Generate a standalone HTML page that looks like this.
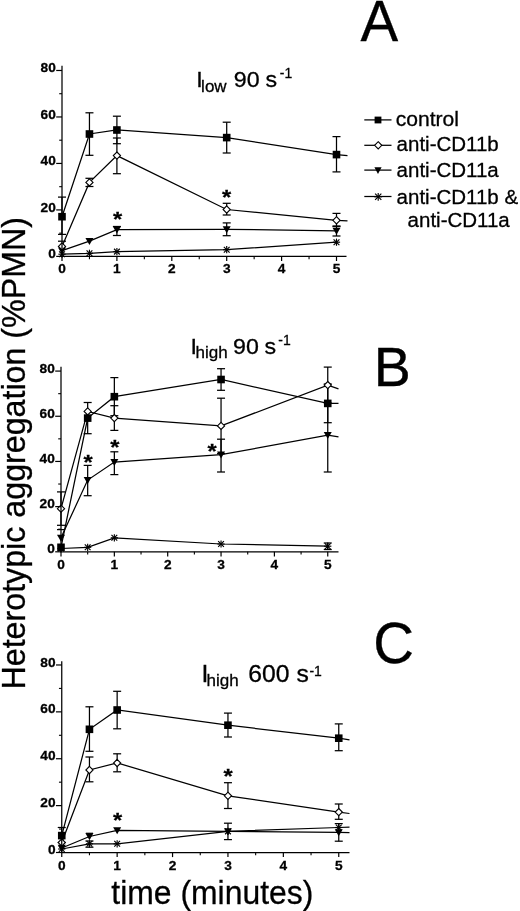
<!DOCTYPE html>
<html><head><meta charset="utf-8"><title>Heterotypic aggregation</title>
<style>
html,body{margin:0;padding:0;background:#fff;}
body{width:520px;height:911px;overflow:hidden;}
svg{display:block;}
text{font-family:"Liberation Sans",Arial,Helvetica,sans-serif;fill:#000;stroke:#000;stroke-width:0.3px;}
</style></head><body>
<svg width="520" height="911" viewBox="0 0 520 911">
<rect width="520" height="911" fill="#fff"/>
<text transform="translate(360.50,40.70) scale(1.0,1)" font-size="56.5" font-weight="normal" font-style="normal" text-anchor="start" >A</text>
<text transform="translate(373.80,386.30) scale(1.0,1)" font-size="55.5" font-weight="normal" font-style="normal" text-anchor="start" >B</text>
<text transform="translate(373.30,662.90) scale(1.0,1)" font-size="56.5" font-weight="normal" font-style="normal" text-anchor="start" >C</text>
<text transform="translate(25.2,689.5) rotate(-90)" font-size="32.3" textLength="472.5" lengthAdjust="spacingAndGlyphs">Heterotypic aggregation (%PMN)</text>
<text x="111.3" y="903.5" font-size="34" textLength="202" lengthAdjust="spacingAndGlyphs">time (minutes)</text>
<text transform="translate(196.30,86.90) scale(1.04,1)" font-size="22.3" font-weight="normal" font-style="normal" text-anchor="start" >I</text>
<text transform="translate(201.10,91.50) scale(1.0,1)" font-size="17" font-weight="normal" font-style="normal" text-anchor="start" >low</text>
<text transform="translate(233.80,86.90) scale(1.04,1)" font-size="22.3" font-weight="normal" font-style="normal" text-anchor="start" >90</text>
<text transform="translate(265.60,86.90) scale(1.04,1)" font-size="22.3" font-weight="normal" font-style="normal" text-anchor="start" >s</text>
<text transform="translate(279.80,77.90) scale(0.92,1)" font-size="15.2" font-weight="normal" font-style="normal" text-anchor="start" >-1</text>
<text transform="translate(190.60,353.50) scale(1.04,1)" font-size="22.3" font-weight="normal" font-style="normal" text-anchor="start" >I</text>
<text transform="translate(195.60,358.10) scale(1.0,1)" font-size="17" font-weight="normal" font-style="normal" text-anchor="start" >high</text>
<text transform="translate(233.00,353.50) scale(1.04,1)" font-size="22.3" font-weight="normal" font-style="normal" text-anchor="start" >90</text>
<text transform="translate(264.40,353.50) scale(1.04,1)" font-size="22.3" font-weight="normal" font-style="normal" text-anchor="start" >s</text>
<text transform="translate(278.30,345.00) scale(0.92,1)" font-size="15.2" font-weight="normal" font-style="normal" text-anchor="start" >-1</text>
<text transform="translate(201.50,681.50) scale(1.06,1)" font-size="23.3" font-weight="normal" font-style="normal" text-anchor="start" >I</text>
<text transform="translate(206.60,686.10) scale(1.0,1)" font-size="17" font-weight="normal" font-style="normal" text-anchor="start" >high</text>
<text transform="translate(248.30,681.50) scale(1.06,1)" font-size="23.3" font-weight="normal" font-style="normal" text-anchor="start" >600</text>
<text transform="translate(296.40,681.50) scale(1.06,1)" font-size="23.3" font-weight="normal" font-style="normal" text-anchor="start" >s</text>
<text transform="translate(309.40,675.80) scale(0.92,1)" font-size="15.2" font-weight="normal" font-style="normal" text-anchor="start" >-1</text>
<line x1="364.30" y1="119.90" x2="391.50" y2="119.90" stroke="#000" stroke-width="1.25"/>
<rect x="374.60" y="116.60" width="6.8" height="6.8" fill="#000"/>
<line x1="364.30" y1="145.30" x2="391.50" y2="145.30" stroke="#000" stroke-width="1.25"/>
<polygon points="378.20,141.70 381.80,145.30 378.20,148.90 374.60,145.30" fill="#fff" stroke="#000" stroke-width="1.1"/>
<line x1="364.30" y1="170.10" x2="391.50" y2="170.10" stroke="#000" stroke-width="1.25"/>
<polygon points="374.40,167.33 381.60,167.33 378.00,173.93" fill="#000"/>
<line x1="364.30" y1="196.50" x2="391.50" y2="196.50" stroke="#000" stroke-width="1.25"/>
<line x1="378.20" y1="192.90" x2="378.20" y2="200.70" stroke="#000" stroke-width="1.15"/>
<line x1="374.30" y1="196.80" x2="382.10" y2="196.80" stroke="#000" stroke-width="1.15"/>
<line x1="375.08" y1="193.68" x2="381.32" y2="199.92" stroke="#000" stroke-width="1.15"/>
<line x1="375.08" y1="199.92" x2="381.32" y2="193.68" stroke="#000" stroke-width="1.15"/>
<text transform="translate(395.70,126.30) scale(1.03,1)" font-size="20.5" font-weight="normal" font-style="normal" text-anchor="start" >control</text>
<text transform="translate(396.60,151.20) scale(1.0,1)" font-size="20.5" font-weight="normal" font-style="normal" text-anchor="start" >anti-CD11b</text>
<text transform="translate(396.60,177.30) scale(1.0,1)" font-size="20.5" font-weight="normal" font-style="normal" text-anchor="start" >anti-CD11a</text>
<text transform="translate(396.60,203.50) scale(1.0,1)" font-size="20.5" font-weight="normal" font-style="normal" text-anchor="start" >anti-CD11b &amp;</text>
<text transform="translate(407.60,227.30) scale(1.0,1)" font-size="20.5" font-weight="normal" font-style="normal" text-anchor="start" >anti-CD11a</text>
<polyline points="62.00,216.70 89.45,134.00 116.90,130.00 226.70,137.60 336.50,154.60 347.50,155.60" fill="none" stroke="#000" stroke-width="1.25"/>
<polyline points="62.00,246.40 89.45,182.40 116.90,155.60 226.70,209.50 336.50,220.30 347.50,220.90" fill="none" stroke="#000" stroke-width="1.25"/>
<polyline points="62.00,250.70 89.45,241.20 116.90,229.60 226.70,229.30 336.50,230.80" fill="none" stroke="#000" stroke-width="1.25"/>
<polyline points="62.00,254.20 89.45,253.30 116.90,251.60 226.70,249.70 336.50,242.20" fill="none" stroke="#000" stroke-width="1.25"/>
<line x1="62.00" y1="197.10" x2="62.00" y2="234.40" stroke="#000" stroke-width="1.25"/>
<line x1="58.00" y1="197.10" x2="66.00" y2="197.10" stroke="#000" stroke-width="1.25"/>
<line x1="58.00" y1="234.40" x2="66.00" y2="234.40" stroke="#000" stroke-width="1.25"/>
<line x1="89.45" y1="112.80" x2="89.45" y2="155.30" stroke="#000" stroke-width="1.25"/>
<line x1="85.45" y1="112.80" x2="93.45" y2="112.80" stroke="#000" stroke-width="1.25"/>
<line x1="85.45" y1="155.30" x2="93.45" y2="155.30" stroke="#000" stroke-width="1.25"/>
<line x1="116.90" y1="116.20" x2="116.90" y2="143.70" stroke="#000" stroke-width="1.25"/>
<line x1="112.90" y1="116.20" x2="120.90" y2="116.20" stroke="#000" stroke-width="1.25"/>
<line x1="112.90" y1="143.70" x2="120.90" y2="143.70" stroke="#000" stroke-width="1.25"/>
<line x1="226.70" y1="122.20" x2="226.70" y2="153.00" stroke="#000" stroke-width="1.25"/>
<line x1="222.70" y1="122.20" x2="230.70" y2="122.20" stroke="#000" stroke-width="1.25"/>
<line x1="222.70" y1="153.00" x2="230.70" y2="153.00" stroke="#000" stroke-width="1.25"/>
<line x1="336.50" y1="136.60" x2="336.50" y2="171.90" stroke="#000" stroke-width="1.25"/>
<line x1="332.50" y1="136.60" x2="340.50" y2="136.60" stroke="#000" stroke-width="1.25"/>
<line x1="332.50" y1="171.90" x2="340.50" y2="171.90" stroke="#000" stroke-width="1.25"/>
<line x1="58.00" y1="241.20" x2="66.00" y2="241.20" stroke="#000" stroke-width="1.25"/>
<line x1="89.45" y1="178.30" x2="89.45" y2="186.50" stroke="#000" stroke-width="1.25"/>
<line x1="85.45" y1="178.30" x2="93.45" y2="178.30" stroke="#000" stroke-width="1.25"/>
<line x1="85.45" y1="186.50" x2="93.45" y2="186.50" stroke="#000" stroke-width="1.25"/>
<line x1="116.90" y1="138.00" x2="116.90" y2="173.70" stroke="#000" stroke-width="1.25"/>
<line x1="112.90" y1="138.00" x2="120.90" y2="138.00" stroke="#000" stroke-width="1.25"/>
<line x1="112.90" y1="173.70" x2="120.90" y2="173.70" stroke="#000" stroke-width="1.25"/>
<line x1="226.70" y1="203.30" x2="226.70" y2="215.00" stroke="#000" stroke-width="1.25"/>
<line x1="222.70" y1="203.30" x2="230.70" y2="203.30" stroke="#000" stroke-width="1.25"/>
<line x1="222.70" y1="215.00" x2="230.70" y2="215.00" stroke="#000" stroke-width="1.25"/>
<line x1="336.50" y1="213.40" x2="336.50" y2="226.50" stroke="#000" stroke-width="1.25"/>
<line x1="332.50" y1="213.40" x2="340.50" y2="213.40" stroke="#000" stroke-width="1.25"/>
<line x1="332.50" y1="226.50" x2="340.50" y2="226.50" stroke="#000" stroke-width="1.25"/>
<line x1="116.90" y1="226.50" x2="116.90" y2="235.50" stroke="#000" stroke-width="1.25"/>
<line x1="112.90" y1="226.50" x2="120.90" y2="226.50" stroke="#000" stroke-width="1.25"/>
<line x1="112.90" y1="235.50" x2="120.90" y2="235.50" stroke="#000" stroke-width="1.25"/>
<line x1="226.70" y1="222.90" x2="226.70" y2="235.70" stroke="#000" stroke-width="1.25"/>
<line x1="222.70" y1="222.90" x2="230.70" y2="222.90" stroke="#000" stroke-width="1.25"/>
<line x1="222.70" y1="235.70" x2="230.70" y2="235.70" stroke="#000" stroke-width="1.25"/>
<line x1="336.50" y1="226.00" x2="336.50" y2="236.00" stroke="#000" stroke-width="1.25"/>
<line x1="332.50" y1="226.00" x2="340.50" y2="226.00" stroke="#000" stroke-width="1.25"/>
<line x1="332.50" y1="236.00" x2="340.50" y2="236.00" stroke="#000" stroke-width="1.25"/>
<line x1="62.00" y1="250.60" x2="62.00" y2="257.80" stroke="#000" stroke-width="1.15"/>
<line x1="58.40" y1="254.20" x2="65.60" y2="254.20" stroke="#000" stroke-width="1.15"/>
<line x1="59.12" y1="251.32" x2="64.88" y2="257.08" stroke="#000" stroke-width="1.15"/>
<line x1="59.12" y1="257.08" x2="64.88" y2="251.32" stroke="#000" stroke-width="1.15"/>
<line x1="89.45" y1="249.70" x2="89.45" y2="256.90" stroke="#000" stroke-width="1.15"/>
<line x1="85.85" y1="253.30" x2="93.05" y2="253.30" stroke="#000" stroke-width="1.15"/>
<line x1="86.57" y1="250.42" x2="92.33" y2="256.18" stroke="#000" stroke-width="1.15"/>
<line x1="86.57" y1="256.18" x2="92.33" y2="250.42" stroke="#000" stroke-width="1.15"/>
<line x1="116.90" y1="248.00" x2="116.90" y2="255.20" stroke="#000" stroke-width="1.15"/>
<line x1="113.30" y1="251.60" x2="120.50" y2="251.60" stroke="#000" stroke-width="1.15"/>
<line x1="114.02" y1="248.72" x2="119.78" y2="254.48" stroke="#000" stroke-width="1.15"/>
<line x1="114.02" y1="254.48" x2="119.78" y2="248.72" stroke="#000" stroke-width="1.15"/>
<line x1="226.70" y1="246.10" x2="226.70" y2="253.30" stroke="#000" stroke-width="1.15"/>
<line x1="223.10" y1="249.70" x2="230.30" y2="249.70" stroke="#000" stroke-width="1.15"/>
<line x1="223.82" y1="246.82" x2="229.58" y2="252.58" stroke="#000" stroke-width="1.15"/>
<line x1="223.82" y1="252.58" x2="229.58" y2="246.82" stroke="#000" stroke-width="1.15"/>
<line x1="336.50" y1="238.60" x2="336.50" y2="245.80" stroke="#000" stroke-width="1.15"/>
<line x1="332.90" y1="242.20" x2="340.10" y2="242.20" stroke="#000" stroke-width="1.15"/>
<line x1="333.62" y1="239.32" x2="339.38" y2="245.08" stroke="#000" stroke-width="1.15"/>
<line x1="333.62" y1="245.08" x2="339.38" y2="239.32" stroke="#000" stroke-width="1.15"/>
<polygon points="58.00,247.55 66.00,247.55 62.00,254.55" fill="#000"/>
<polygon points="85.45,238.05 93.45,238.05 89.45,245.05" fill="#000"/>
<polygon points="112.90,226.45 120.90,226.45 116.90,233.45" fill="#000"/>
<polygon points="222.70,226.15 230.70,226.15 226.70,233.15" fill="#000"/>
<polygon points="332.50,227.65 340.50,227.65 336.50,234.65" fill="#000"/>
<polygon points="62.00,242.80 65.60,246.40 62.00,250.00 58.40,246.40" fill="#fff" stroke="#000" stroke-width="1.1"/>
<polygon points="89.45,178.80 93.05,182.40 89.45,186.00 85.85,182.40" fill="#fff" stroke="#000" stroke-width="1.1"/>
<polygon points="116.90,152.00 120.50,155.60 116.90,159.20 113.30,155.60" fill="#fff" stroke="#000" stroke-width="1.1"/>
<polygon points="226.70,205.90 230.30,209.50 226.70,213.10 223.10,209.50" fill="#fff" stroke="#000" stroke-width="1.1"/>
<polygon points="336.50,216.70 340.10,220.30 336.50,223.90 332.90,220.30" fill="#fff" stroke="#000" stroke-width="1.1"/>
<rect x="58.20" y="212.90" width="7.6" height="7.6" fill="#000"/>
<rect x="85.65" y="130.20" width="7.6" height="7.6" fill="#000"/>
<rect x="113.10" y="126.20" width="7.6" height="7.6" fill="#000"/>
<rect x="222.90" y="133.80" width="7.6" height="7.6" fill="#000"/>
<rect x="332.70" y="150.80" width="7.6" height="7.6" fill="#000"/>
<text transform="translate(117.50,216.00) scale(1.05,0.88)" y="11.70" font-size="22.5" font-weight="bold" text-anchor="middle">*</text>
<text transform="translate(226.60,193.80) scale(1.05,0.88)" y="11.70" font-size="22.5" font-weight="bold" text-anchor="middle">*</text>
<line x1="62.00" y1="65.80" x2="62.00" y2="256.90" stroke="#000" stroke-width="1.25"/>
<line x1="61.50" y1="256.40" x2="346.50" y2="256.40" stroke="#000" stroke-width="1.25"/>
<line x1="56.20" y1="256.40" x2="62.00" y2="256.40" stroke="#000" stroke-width="1.2"/>
<text transform="translate(55.80,258.00) scale(1.0,1)" font-size="13.7" font-weight="bold" font-style="normal" text-anchor="end" >0</text>
<line x1="59.20" y1="233.16" x2="62.00" y2="233.16" stroke="#000" stroke-width="1.1"/>
<line x1="56.20" y1="209.92" x2="62.00" y2="209.92" stroke="#000" stroke-width="1.2"/>
<text transform="translate(55.80,211.52) scale(1.0,1)" font-size="13.7" font-weight="bold" font-style="normal" text-anchor="end" >20</text>
<line x1="59.20" y1="186.68" x2="62.00" y2="186.68" stroke="#000" stroke-width="1.1"/>
<line x1="56.20" y1="163.44" x2="62.00" y2="163.44" stroke="#000" stroke-width="1.2"/>
<text transform="translate(55.80,165.04) scale(1.0,1)" font-size="13.7" font-weight="bold" font-style="normal" text-anchor="end" >40</text>
<line x1="59.20" y1="140.20" x2="62.00" y2="140.20" stroke="#000" stroke-width="1.1"/>
<line x1="56.20" y1="116.96" x2="62.00" y2="116.96" stroke="#000" stroke-width="1.2"/>
<text transform="translate(55.80,118.56) scale(1.0,1)" font-size="13.7" font-weight="bold" font-style="normal" text-anchor="end" >60</text>
<line x1="59.20" y1="93.72" x2="62.00" y2="93.72" stroke="#000" stroke-width="1.1"/>
<line x1="56.20" y1="70.48" x2="62.00" y2="70.48" stroke="#000" stroke-width="1.2"/>
<text transform="translate(55.80,72.08) scale(1.0,1)" font-size="13.7" font-weight="bold" font-style="normal" text-anchor="end" >80</text>
<line x1="62.00" y1="256.40" x2="62.00" y2="261.00" stroke="#000" stroke-width="1.2"/>
<text transform="translate(62.00,273.40) scale(1.0,1)" font-size="13.7" font-weight="bold" font-style="normal" text-anchor="middle" >0</text>
<line x1="89.45" y1="256.40" x2="89.45" y2="259.20" stroke="#000" stroke-width="1.1"/>
<line x1="116.90" y1="256.40" x2="116.90" y2="261.00" stroke="#000" stroke-width="1.2"/>
<text transform="translate(116.90,273.40) scale(1.0,1)" font-size="13.7" font-weight="bold" font-style="normal" text-anchor="middle" >1</text>
<line x1="144.35" y1="256.40" x2="144.35" y2="259.20" stroke="#000" stroke-width="1.1"/>
<line x1="171.80" y1="256.40" x2="171.80" y2="261.00" stroke="#000" stroke-width="1.2"/>
<text transform="translate(171.80,273.40) scale(1.0,1)" font-size="13.7" font-weight="bold" font-style="normal" text-anchor="middle" >2</text>
<line x1="199.25" y1="256.40" x2="199.25" y2="259.20" stroke="#000" stroke-width="1.1"/>
<line x1="226.70" y1="256.40" x2="226.70" y2="261.00" stroke="#000" stroke-width="1.2"/>
<text transform="translate(226.70,273.40) scale(1.0,1)" font-size="13.7" font-weight="bold" font-style="normal" text-anchor="middle" >3</text>
<line x1="254.15" y1="256.40" x2="254.15" y2="259.20" stroke="#000" stroke-width="1.1"/>
<line x1="281.60" y1="256.40" x2="281.60" y2="261.00" stroke="#000" stroke-width="1.2"/>
<text transform="translate(281.60,273.40) scale(1.0,1)" font-size="13.7" font-weight="bold" font-style="normal" text-anchor="middle" >4</text>
<line x1="309.05" y1="256.40" x2="309.05" y2="259.20" stroke="#000" stroke-width="1.1"/>
<line x1="336.50" y1="256.40" x2="336.50" y2="261.00" stroke="#000" stroke-width="1.2"/>
<text transform="translate(336.50,273.40) scale(1.0,1)" font-size="13.7" font-weight="bold" font-style="normal" text-anchor="middle" >5</text>
<polyline points="61.00,547.30 87.67,418.10 114.35,396.70 221.05,379.50 327.75,403.40 338.50,403.40" fill="none" stroke="#000" stroke-width="1.25"/>
<polyline points="61.00,508.70 87.67,411.40 114.35,418.10 221.05,425.90 327.75,385.10 338.50,388.90" fill="none" stroke="#000" stroke-width="1.25"/>
<polyline points="61.00,537.80 87.67,480.10 114.35,462.10 221.05,454.70 327.75,435.10 338.50,436.80" fill="none" stroke="#000" stroke-width="1.25"/>
<polyline points="61.00,548.50 87.67,547.30 114.35,537.80 221.05,544.00 327.75,546.20" fill="none" stroke="#000" stroke-width="1.25"/>
<line x1="61.00" y1="491.90" x2="61.00" y2="525.30" stroke="#000" stroke-width="1.25"/>
<line x1="57.00" y1="491.90" x2="65.00" y2="491.90" stroke="#000" stroke-width="1.25"/>
<line x1="57.00" y1="525.30" x2="65.00" y2="525.30" stroke="#000" stroke-width="1.25"/>
<line x1="57.00" y1="529.60" x2="65.00" y2="529.60" stroke="#000" stroke-width="1.25"/>
<line x1="87.67" y1="402.50" x2="87.67" y2="433.70" stroke="#000" stroke-width="1.25"/>
<line x1="83.67" y1="402.50" x2="91.67" y2="402.50" stroke="#000" stroke-width="1.25"/>
<line x1="83.67" y1="433.70" x2="91.67" y2="433.70" stroke="#000" stroke-width="1.25"/>
<line x1="114.35" y1="377.60" x2="114.35" y2="415.70" stroke="#000" stroke-width="1.25"/>
<line x1="110.35" y1="377.60" x2="118.35" y2="377.60" stroke="#000" stroke-width="1.25"/>
<line x1="110.35" y1="415.70" x2="118.35" y2="415.70" stroke="#000" stroke-width="1.25"/>
<line x1="114.35" y1="405.70" x2="114.35" y2="430.40" stroke="#000" stroke-width="1.25"/>
<line x1="110.35" y1="405.70" x2="118.35" y2="405.70" stroke="#000" stroke-width="1.25"/>
<line x1="110.35" y1="430.40" x2="118.35" y2="430.40" stroke="#000" stroke-width="1.25"/>
<line x1="221.05" y1="368.70" x2="221.05" y2="390.30" stroke="#000" stroke-width="1.25"/>
<line x1="217.05" y1="368.70" x2="225.05" y2="368.70" stroke="#000" stroke-width="1.25"/>
<line x1="217.05" y1="390.30" x2="225.05" y2="390.30" stroke="#000" stroke-width="1.25"/>
<line x1="221.05" y1="398.20" x2="221.05" y2="453.60" stroke="#000" stroke-width="1.25"/>
<line x1="217.05" y1="398.20" x2="225.05" y2="398.20" stroke="#000" stroke-width="1.25"/>
<line x1="217.05" y1="453.60" x2="225.05" y2="453.60" stroke="#000" stroke-width="1.25"/>
<line x1="327.75" y1="367.10" x2="327.75" y2="403.00" stroke="#000" stroke-width="1.25"/>
<line x1="323.75" y1="367.10" x2="331.75" y2="367.10" stroke="#000" stroke-width="1.25"/>
<line x1="323.75" y1="403.00" x2="331.75" y2="403.00" stroke="#000" stroke-width="1.25"/>
<line x1="327.75" y1="384.00" x2="327.75" y2="422.70" stroke="#000" stroke-width="1.25"/>
<line x1="323.75" y1="384.00" x2="331.75" y2="384.00" stroke="#000" stroke-width="1.25"/>
<line x1="323.75" y1="422.70" x2="331.75" y2="422.70" stroke="#000" stroke-width="1.25"/>
<line x1="87.67" y1="465.40" x2="87.67" y2="495.70" stroke="#000" stroke-width="1.25"/>
<line x1="83.67" y1="465.40" x2="91.67" y2="465.40" stroke="#000" stroke-width="1.25"/>
<line x1="83.67" y1="495.70" x2="91.67" y2="495.70" stroke="#000" stroke-width="1.25"/>
<line x1="114.35" y1="451.80" x2="114.35" y2="474.60" stroke="#000" stroke-width="1.25"/>
<line x1="110.35" y1="451.80" x2="118.35" y2="451.80" stroke="#000" stroke-width="1.25"/>
<line x1="110.35" y1="474.60" x2="118.35" y2="474.60" stroke="#000" stroke-width="1.25"/>
<line x1="221.05" y1="439.20" x2="221.05" y2="472.00" stroke="#000" stroke-width="1.25"/>
<line x1="217.05" y1="439.20" x2="225.05" y2="439.20" stroke="#000" stroke-width="1.25"/>
<line x1="217.05" y1="472.00" x2="225.05" y2="472.00" stroke="#000" stroke-width="1.25"/>
<line x1="327.75" y1="403.00" x2="327.75" y2="472.00" stroke="#000" stroke-width="1.25"/>
<line x1="323.75" y1="472.00" x2="331.75" y2="472.00" stroke="#000" stroke-width="1.25"/>
<line x1="327.75" y1="543.00" x2="327.75" y2="549.50" stroke="#000" stroke-width="1.25"/>
<line x1="323.75" y1="543.00" x2="331.75" y2="543.00" stroke="#000" stroke-width="1.25"/>
<line x1="323.75" y1="549.50" x2="331.75" y2="549.50" stroke="#000" stroke-width="1.25"/>
<line x1="61.00" y1="544.90" x2="61.00" y2="552.10" stroke="#000" stroke-width="1.15"/>
<line x1="57.40" y1="548.50" x2="64.60" y2="548.50" stroke="#000" stroke-width="1.15"/>
<line x1="58.12" y1="545.62" x2="63.88" y2="551.38" stroke="#000" stroke-width="1.15"/>
<line x1="58.12" y1="551.38" x2="63.88" y2="545.62" stroke="#000" stroke-width="1.15"/>
<line x1="87.67" y1="543.70" x2="87.67" y2="550.90" stroke="#000" stroke-width="1.15"/>
<line x1="84.08" y1="547.30" x2="91.27" y2="547.30" stroke="#000" stroke-width="1.15"/>
<line x1="84.80" y1="544.42" x2="90.55" y2="550.18" stroke="#000" stroke-width="1.15"/>
<line x1="84.80" y1="550.18" x2="90.55" y2="544.42" stroke="#000" stroke-width="1.15"/>
<line x1="114.35" y1="534.20" x2="114.35" y2="541.40" stroke="#000" stroke-width="1.15"/>
<line x1="110.75" y1="537.80" x2="117.95" y2="537.80" stroke="#000" stroke-width="1.15"/>
<line x1="111.47" y1="534.92" x2="117.23" y2="540.68" stroke="#000" stroke-width="1.15"/>
<line x1="111.47" y1="540.68" x2="117.23" y2="534.92" stroke="#000" stroke-width="1.15"/>
<line x1="221.05" y1="540.40" x2="221.05" y2="547.60" stroke="#000" stroke-width="1.15"/>
<line x1="217.45" y1="544.00" x2="224.65" y2="544.00" stroke="#000" stroke-width="1.15"/>
<line x1="218.17" y1="541.12" x2="223.93" y2="546.88" stroke="#000" stroke-width="1.15"/>
<line x1="218.17" y1="546.88" x2="223.93" y2="541.12" stroke="#000" stroke-width="1.15"/>
<line x1="327.75" y1="542.60" x2="327.75" y2="549.80" stroke="#000" stroke-width="1.15"/>
<line x1="324.15" y1="546.20" x2="331.35" y2="546.20" stroke="#000" stroke-width="1.15"/>
<line x1="324.87" y1="543.32" x2="330.63" y2="549.08" stroke="#000" stroke-width="1.15"/>
<line x1="324.87" y1="549.08" x2="330.63" y2="543.32" stroke="#000" stroke-width="1.15"/>
<polygon points="57.00,534.65 65.00,534.65 61.00,541.65" fill="#000"/>
<polygon points="83.67,476.95 91.67,476.95 87.67,483.95" fill="#000"/>
<polygon points="110.35,458.95 118.35,458.95 114.35,465.95" fill="#000"/>
<polygon points="217.05,451.55 225.05,451.55 221.05,458.55" fill="#000"/>
<polygon points="323.75,431.95 331.75,431.95 327.75,438.95" fill="#000"/>
<polygon points="61.00,505.10 64.60,508.70 61.00,512.30 57.40,508.70" fill="#fff" stroke="#000" stroke-width="1.1"/>
<polygon points="87.67,407.80 91.27,411.40 87.67,415.00 84.08,411.40" fill="#fff" stroke="#000" stroke-width="1.1"/>
<rect x="57.20" y="543.50" width="7.6" height="7.6" fill="#000"/>
<rect x="83.88" y="414.30" width="7.6" height="7.6" fill="#000"/>
<rect x="110.55" y="392.90" width="7.6" height="7.6" fill="#000"/>
<rect x="217.25" y="375.70" width="7.6" height="7.6" fill="#000"/>
<rect x="323.95" y="399.60" width="7.6" height="7.6" fill="#000"/>
<polygon points="114.35,414.50 117.95,418.10 114.35,421.70 110.75,418.10" fill="#fff" stroke="#000" stroke-width="1.1"/>
<polygon points="221.05,422.30 224.65,425.90 221.05,429.50 217.45,425.90" fill="#fff" stroke="#000" stroke-width="1.1"/>
<polygon points="327.75,381.50 331.35,385.10 327.75,388.70 324.15,385.10" fill="#fff" stroke="#000" stroke-width="1.1"/>
<text transform="translate(88.00,458.20) scale(1.05,0.88)" y="11.70" font-size="22.5" font-weight="bold" text-anchor="middle">*</text>
<text transform="translate(114.90,443.80) scale(1.05,0.88)" y="11.70" font-size="22.5" font-weight="bold" text-anchor="middle">*</text>
<text transform="translate(212.00,447.50) scale(1.05,0.88)" y="11.70" font-size="22.5" font-weight="bold" text-anchor="middle">*</text>
<line x1="61.00" y1="366.70" x2="61.00" y2="552.30" stroke="#000" stroke-width="1.25"/>
<line x1="60.50" y1="551.80" x2="338.50" y2="551.80" stroke="#000" stroke-width="1.25"/>
<line x1="55.20" y1="551.80" x2="61.00" y2="551.80" stroke="#000" stroke-width="1.2"/>
<text transform="translate(54.80,553.40) scale(1.0,1)" font-size="13.7" font-weight="bold" font-style="normal" text-anchor="end" >0</text>
<line x1="58.20" y1="529.21" x2="61.00" y2="529.21" stroke="#000" stroke-width="1.1"/>
<line x1="55.20" y1="506.62" x2="61.00" y2="506.62" stroke="#000" stroke-width="1.2"/>
<text transform="translate(54.80,508.22) scale(1.0,1)" font-size="13.7" font-weight="bold" font-style="normal" text-anchor="end" >20</text>
<line x1="58.20" y1="484.03" x2="61.00" y2="484.03" stroke="#000" stroke-width="1.1"/>
<line x1="55.20" y1="461.44" x2="61.00" y2="461.44" stroke="#000" stroke-width="1.2"/>
<text transform="translate(54.80,463.04) scale(1.0,1)" font-size="13.7" font-weight="bold" font-style="normal" text-anchor="end" >40</text>
<line x1="58.20" y1="438.85" x2="61.00" y2="438.85" stroke="#000" stroke-width="1.1"/>
<line x1="55.20" y1="416.26" x2="61.00" y2="416.26" stroke="#000" stroke-width="1.2"/>
<text transform="translate(54.80,417.86) scale(1.0,1)" font-size="13.7" font-weight="bold" font-style="normal" text-anchor="end" >60</text>
<line x1="58.20" y1="393.67" x2="61.00" y2="393.67" stroke="#000" stroke-width="1.1"/>
<line x1="55.20" y1="371.08" x2="61.00" y2="371.08" stroke="#000" stroke-width="1.2"/>
<text transform="translate(54.80,372.68) scale(1.0,1)" font-size="13.7" font-weight="bold" font-style="normal" text-anchor="end" >80</text>
<line x1="61.00" y1="551.80" x2="61.00" y2="556.40" stroke="#000" stroke-width="1.2"/>
<text transform="translate(61.00,568.80) scale(1.0,1)" font-size="13.7" font-weight="bold" font-style="normal" text-anchor="middle" >0</text>
<line x1="87.67" y1="551.80" x2="87.67" y2="554.60" stroke="#000" stroke-width="1.1"/>
<line x1="114.35" y1="551.80" x2="114.35" y2="556.40" stroke="#000" stroke-width="1.2"/>
<text transform="translate(114.35,568.80) scale(1.0,1)" font-size="13.7" font-weight="bold" font-style="normal" text-anchor="middle" >1</text>
<line x1="141.03" y1="551.80" x2="141.03" y2="554.60" stroke="#000" stroke-width="1.1"/>
<line x1="167.70" y1="551.80" x2="167.70" y2="556.40" stroke="#000" stroke-width="1.2"/>
<text transform="translate(167.70,568.80) scale(1.0,1)" font-size="13.7" font-weight="bold" font-style="normal" text-anchor="middle" >2</text>
<line x1="194.38" y1="551.80" x2="194.38" y2="554.60" stroke="#000" stroke-width="1.1"/>
<line x1="221.05" y1="551.80" x2="221.05" y2="556.40" stroke="#000" stroke-width="1.2"/>
<text transform="translate(221.05,568.80) scale(1.0,1)" font-size="13.7" font-weight="bold" font-style="normal" text-anchor="middle" >3</text>
<line x1="247.72" y1="551.80" x2="247.72" y2="554.60" stroke="#000" stroke-width="1.1"/>
<line x1="274.40" y1="551.80" x2="274.40" y2="556.40" stroke="#000" stroke-width="1.2"/>
<text transform="translate(274.40,568.80) scale(1.0,1)" font-size="13.7" font-weight="bold" font-style="normal" text-anchor="middle" >4</text>
<line x1="301.08" y1="551.80" x2="301.08" y2="554.60" stroke="#000" stroke-width="1.1"/>
<line x1="327.75" y1="551.80" x2="327.75" y2="556.40" stroke="#000" stroke-width="1.2"/>
<text transform="translate(327.75,568.80) scale(1.0,1)" font-size="13.7" font-weight="bold" font-style="normal" text-anchor="middle" >5</text>
<polyline points="61.75,835.60 89.45,729.30 117.15,710.00 227.95,725.20 338.75,738.20 349.50,739.90" fill="none" stroke="#000" stroke-width="1.25"/>
<polyline points="61.75,842.50 89.45,770.00 117.15,763.00 227.95,795.80 338.75,812.10 349.50,813.50" fill="none" stroke="#000" stroke-width="1.25"/>
<polyline points="61.75,848.00 89.45,836.50 117.15,830.30 227.95,831.40 338.75,832.40 349.50,832.60" fill="none" stroke="#000" stroke-width="1.25"/>
<polyline points="61.75,849.00 89.45,843.80 117.15,843.80 227.95,831.40 338.75,827.50 349.50,827.20" fill="none" stroke="#000" stroke-width="1.25"/>
<line x1="61.75" y1="827.50" x2="61.75" y2="842.50" stroke="#000" stroke-width="1.25"/>
<line x1="57.75" y1="827.50" x2="65.75" y2="827.50" stroke="#000" stroke-width="1.25"/>
<line x1="57.75" y1="842.50" x2="65.75" y2="842.50" stroke="#000" stroke-width="1.25"/>
<line x1="89.45" y1="706.80" x2="89.45" y2="751.30" stroke="#000" stroke-width="1.25"/>
<line x1="85.45" y1="706.80" x2="93.45" y2="706.80" stroke="#000" stroke-width="1.25"/>
<line x1="85.45" y1="751.30" x2="93.45" y2="751.30" stroke="#000" stroke-width="1.25"/>
<line x1="117.15" y1="691.30" x2="117.15" y2="728.80" stroke="#000" stroke-width="1.25"/>
<line x1="113.15" y1="691.30" x2="121.15" y2="691.30" stroke="#000" stroke-width="1.25"/>
<line x1="113.15" y1="728.80" x2="121.15" y2="728.80" stroke="#000" stroke-width="1.25"/>
<line x1="227.95" y1="713.10" x2="227.95" y2="737.00" stroke="#000" stroke-width="1.25"/>
<line x1="223.95" y1="713.10" x2="231.95" y2="713.10" stroke="#000" stroke-width="1.25"/>
<line x1="223.95" y1="737.00" x2="231.95" y2="737.00" stroke="#000" stroke-width="1.25"/>
<line x1="338.75" y1="723.90" x2="338.75" y2="750.70" stroke="#000" stroke-width="1.25"/>
<line x1="334.75" y1="723.90" x2="342.75" y2="723.90" stroke="#000" stroke-width="1.25"/>
<line x1="334.75" y1="750.70" x2="342.75" y2="750.70" stroke="#000" stroke-width="1.25"/>
<line x1="89.45" y1="757.00" x2="89.45" y2="781.80" stroke="#000" stroke-width="1.25"/>
<line x1="85.45" y1="757.00" x2="93.45" y2="757.00" stroke="#000" stroke-width="1.25"/>
<line x1="85.45" y1="781.80" x2="93.45" y2="781.80" stroke="#000" stroke-width="1.25"/>
<line x1="117.15" y1="753.80" x2="117.15" y2="771.80" stroke="#000" stroke-width="1.25"/>
<line x1="113.15" y1="753.80" x2="121.15" y2="753.80" stroke="#000" stroke-width="1.25"/>
<line x1="113.15" y1="771.80" x2="121.15" y2="771.80" stroke="#000" stroke-width="1.25"/>
<line x1="227.95" y1="782.70" x2="227.95" y2="808.50" stroke="#000" stroke-width="1.25"/>
<line x1="223.95" y1="782.70" x2="231.95" y2="782.70" stroke="#000" stroke-width="1.25"/>
<line x1="223.95" y1="808.50" x2="231.95" y2="808.50" stroke="#000" stroke-width="1.25"/>
<line x1="338.75" y1="804.00" x2="338.75" y2="819.30" stroke="#000" stroke-width="1.25"/>
<line x1="334.75" y1="804.00" x2="342.75" y2="804.00" stroke="#000" stroke-width="1.25"/>
<line x1="334.75" y1="819.30" x2="342.75" y2="819.30" stroke="#000" stroke-width="1.25"/>
<line x1="89.45" y1="841.00" x2="89.45" y2="847.20" stroke="#000" stroke-width="1.25"/>
<line x1="85.45" y1="841.00" x2="93.45" y2="841.00" stroke="#000" stroke-width="1.25"/>
<line x1="85.45" y1="847.20" x2="93.45" y2="847.20" stroke="#000" stroke-width="1.25"/>
<line x1="85.85" y1="833.30" x2="93.05" y2="833.30" stroke="#000" stroke-width="1.25"/>
<line x1="227.95" y1="823.20" x2="227.95" y2="839.60" stroke="#000" stroke-width="1.25"/>
<line x1="223.95" y1="823.20" x2="231.95" y2="823.20" stroke="#000" stroke-width="1.25"/>
<line x1="223.95" y1="839.60" x2="231.95" y2="839.60" stroke="#000" stroke-width="1.25"/>
<line x1="338.75" y1="823.60" x2="338.75" y2="841.20" stroke="#000" stroke-width="1.25"/>
<line x1="334.75" y1="823.60" x2="342.75" y2="823.60" stroke="#000" stroke-width="1.25"/>
<line x1="334.75" y1="841.20" x2="342.75" y2="841.20" stroke="#000" stroke-width="1.25"/>
<line x1="61.75" y1="845.40" x2="61.75" y2="852.60" stroke="#000" stroke-width="1.15"/>
<line x1="58.15" y1="849.00" x2="65.35" y2="849.00" stroke="#000" stroke-width="1.15"/>
<line x1="58.87" y1="846.12" x2="64.63" y2="851.88" stroke="#000" stroke-width="1.15"/>
<line x1="58.87" y1="851.88" x2="64.63" y2="846.12" stroke="#000" stroke-width="1.15"/>
<line x1="89.45" y1="840.20" x2="89.45" y2="847.40" stroke="#000" stroke-width="1.15"/>
<line x1="85.85" y1="843.80" x2="93.05" y2="843.80" stroke="#000" stroke-width="1.15"/>
<line x1="86.57" y1="840.92" x2="92.33" y2="846.68" stroke="#000" stroke-width="1.15"/>
<line x1="86.57" y1="846.68" x2="92.33" y2="840.92" stroke="#000" stroke-width="1.15"/>
<line x1="117.15" y1="840.20" x2="117.15" y2="847.40" stroke="#000" stroke-width="1.15"/>
<line x1="113.55" y1="843.80" x2="120.75" y2="843.80" stroke="#000" stroke-width="1.15"/>
<line x1="114.27" y1="840.92" x2="120.03" y2="846.68" stroke="#000" stroke-width="1.15"/>
<line x1="114.27" y1="846.68" x2="120.03" y2="840.92" stroke="#000" stroke-width="1.15"/>
<line x1="227.95" y1="827.80" x2="227.95" y2="835.00" stroke="#000" stroke-width="1.15"/>
<line x1="224.35" y1="831.40" x2="231.55" y2="831.40" stroke="#000" stroke-width="1.15"/>
<line x1="225.07" y1="828.52" x2="230.83" y2="834.28" stroke="#000" stroke-width="1.15"/>
<line x1="225.07" y1="834.28" x2="230.83" y2="828.52" stroke="#000" stroke-width="1.15"/>
<line x1="338.75" y1="823.90" x2="338.75" y2="831.10" stroke="#000" stroke-width="1.15"/>
<line x1="335.15" y1="827.50" x2="342.35" y2="827.50" stroke="#000" stroke-width="1.15"/>
<line x1="335.87" y1="824.62" x2="341.63" y2="830.38" stroke="#000" stroke-width="1.15"/>
<line x1="335.87" y1="830.38" x2="341.63" y2="824.62" stroke="#000" stroke-width="1.15"/>
<polygon points="57.75,844.85 65.75,844.85 61.75,851.85" fill="#000"/>
<polygon points="85.45,833.35 93.45,833.35 89.45,840.35" fill="#000"/>
<polygon points="113.15,827.15 121.15,827.15 117.15,834.15" fill="#000"/>
<polygon points="223.95,828.25 231.95,828.25 227.95,835.25" fill="#000"/>
<polygon points="334.75,829.25 342.75,829.25 338.75,836.25" fill="#000"/>
<polygon points="61.75,838.90 65.35,842.50 61.75,846.10 58.15,842.50" fill="#fff" stroke="#000" stroke-width="1.1"/>
<polygon points="89.45,766.40 93.05,770.00 89.45,773.60 85.85,770.00" fill="#fff" stroke="#000" stroke-width="1.1"/>
<polygon points="117.15,759.40 120.75,763.00 117.15,766.60 113.55,763.00" fill="#fff" stroke="#000" stroke-width="1.1"/>
<polygon points="227.95,792.20 231.55,795.80 227.95,799.40 224.35,795.80" fill="#fff" stroke="#000" stroke-width="1.1"/>
<polygon points="338.75,808.50 342.35,812.10 338.75,815.70 335.15,812.10" fill="#fff" stroke="#000" stroke-width="1.1"/>
<rect x="57.95" y="831.80" width="7.6" height="7.6" fill="#000"/>
<rect x="85.65" y="725.50" width="7.6" height="7.6" fill="#000"/>
<rect x="113.35" y="706.20" width="7.6" height="7.6" fill="#000"/>
<rect x="224.15" y="721.40" width="7.6" height="7.6" fill="#000"/>
<rect x="334.95" y="734.40" width="7.6" height="7.6" fill="#000"/>
<text transform="translate(117.50,817.00) scale(1.05,0.88)" y="11.70" font-size="22.5" font-weight="bold" text-anchor="middle">*</text>
<text transform="translate(228.20,772.60) scale(1.05,0.88)" y="11.70" font-size="22.5" font-weight="bold" text-anchor="middle">*</text>
<line x1="61.75" y1="661.30" x2="61.75" y2="853.00" stroke="#000" stroke-width="1.25"/>
<line x1="61.25" y1="852.50" x2="349.50" y2="852.50" stroke="#000" stroke-width="1.25"/>
<line x1="55.95" y1="852.50" x2="61.75" y2="852.50" stroke="#000" stroke-width="1.2"/>
<text transform="translate(55.55,854.10) scale(1.0,1)" font-size="13.7" font-weight="bold" font-style="normal" text-anchor="end" >0</text>
<line x1="58.95" y1="829.06" x2="61.75" y2="829.06" stroke="#000" stroke-width="1.1"/>
<line x1="55.95" y1="805.62" x2="61.75" y2="805.62" stroke="#000" stroke-width="1.2"/>
<text transform="translate(55.55,807.22) scale(1.0,1)" font-size="13.7" font-weight="bold" font-style="normal" text-anchor="end" >20</text>
<line x1="58.95" y1="782.18" x2="61.75" y2="782.18" stroke="#000" stroke-width="1.1"/>
<line x1="55.95" y1="758.74" x2="61.75" y2="758.74" stroke="#000" stroke-width="1.2"/>
<text transform="translate(55.55,760.34) scale(1.0,1)" font-size="13.7" font-weight="bold" font-style="normal" text-anchor="end" >40</text>
<line x1="58.95" y1="735.30" x2="61.75" y2="735.30" stroke="#000" stroke-width="1.1"/>
<line x1="55.95" y1="711.86" x2="61.75" y2="711.86" stroke="#000" stroke-width="1.2"/>
<text transform="translate(55.55,713.46) scale(1.0,1)" font-size="13.7" font-weight="bold" font-style="normal" text-anchor="end" >60</text>
<line x1="58.95" y1="688.42" x2="61.75" y2="688.42" stroke="#000" stroke-width="1.1"/>
<line x1="55.95" y1="664.98" x2="61.75" y2="664.98" stroke="#000" stroke-width="1.2"/>
<text transform="translate(55.55,666.58) scale(1.0,1)" font-size="13.7" font-weight="bold" font-style="normal" text-anchor="end" >80</text>
<line x1="61.75" y1="852.50" x2="61.75" y2="857.10" stroke="#000" stroke-width="1.2"/>
<text transform="translate(61.75,870.10) scale(1.0,1)" font-size="13.7" font-weight="bold" font-style="normal" text-anchor="middle" >0</text>
<line x1="89.45" y1="852.50" x2="89.45" y2="855.30" stroke="#000" stroke-width="1.1"/>
<line x1="117.15" y1="852.50" x2="117.15" y2="857.10" stroke="#000" stroke-width="1.2"/>
<text transform="translate(117.15,870.10) scale(1.0,1)" font-size="13.7" font-weight="bold" font-style="normal" text-anchor="middle" >1</text>
<line x1="144.85" y1="852.50" x2="144.85" y2="855.30" stroke="#000" stroke-width="1.1"/>
<line x1="172.55" y1="852.50" x2="172.55" y2="857.10" stroke="#000" stroke-width="1.2"/>
<text transform="translate(172.55,870.10) scale(1.0,1)" font-size="13.7" font-weight="bold" font-style="normal" text-anchor="middle" >2</text>
<line x1="200.25" y1="852.50" x2="200.25" y2="855.30" stroke="#000" stroke-width="1.1"/>
<line x1="227.95" y1="852.50" x2="227.95" y2="857.10" stroke="#000" stroke-width="1.2"/>
<text transform="translate(227.95,870.10) scale(1.0,1)" font-size="13.7" font-weight="bold" font-style="normal" text-anchor="middle" >3</text>
<line x1="255.65" y1="852.50" x2="255.65" y2="855.30" stroke="#000" stroke-width="1.1"/>
<line x1="283.35" y1="852.50" x2="283.35" y2="857.10" stroke="#000" stroke-width="1.2"/>
<text transform="translate(283.35,870.10) scale(1.0,1)" font-size="13.7" font-weight="bold" font-style="normal" text-anchor="middle" >4</text>
<line x1="311.05" y1="852.50" x2="311.05" y2="855.30" stroke="#000" stroke-width="1.1"/>
<line x1="338.75" y1="852.50" x2="338.75" y2="857.10" stroke="#000" stroke-width="1.2"/>
<text transform="translate(338.75,870.10) scale(1.0,1)" font-size="13.7" font-weight="bold" font-style="normal" text-anchor="middle" >5</text>
</svg></body></html>
